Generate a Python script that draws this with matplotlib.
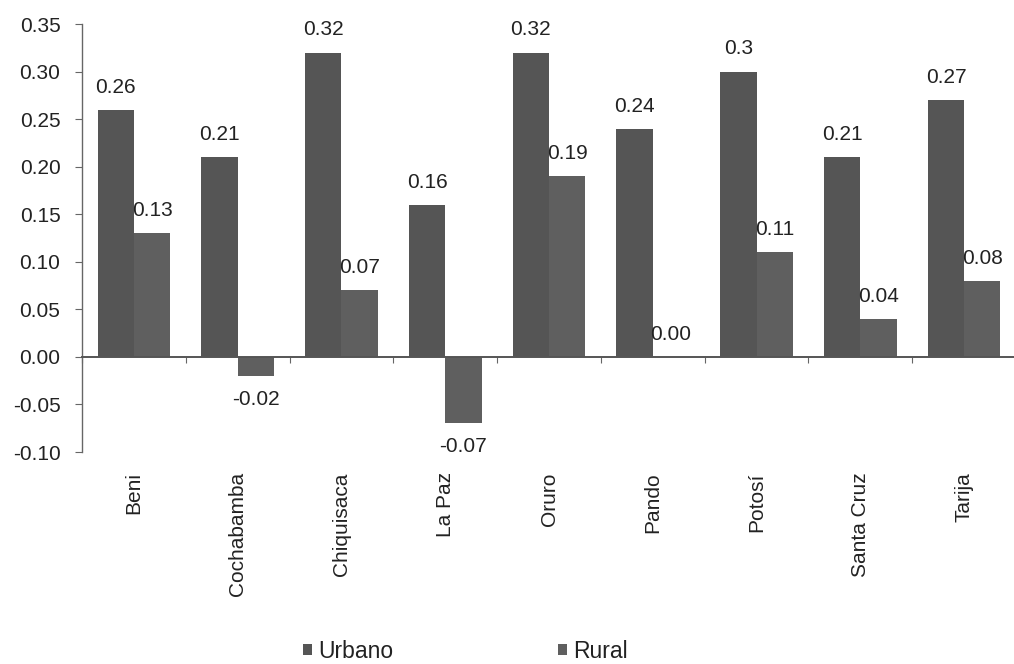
import numpy as np
import matplotlib
matplotlib.use("Agg")
import matplotlib.pyplot as plt
from matplotlib.ticker import FixedLocator, FormatStrFormatter

# departments and poverty-change values (labels kept as printed)
departments = ["Beni", "Cochabamba", "Chiquisaca", "La Paz", "Oruro",
               "Pando", "Potosí", "Santa Cruz", "Tarija"]
urbano_txt = ["0.26", "0.21", "0.32", "0.16", "0.32", "0.24", "0.3", "0.21", "0.27"]
rural_txt = ["0.13", "-0.02", "0.07", "-0.07", "0.19", "0.00", "0.11", "0.04", "0.08"]
urbano = [float(s) for s in urbano_txt]
rural = [float(s) for s in rural_txt]
y_ticks = [-0.10, -0.05, 0.00, 0.05, 0.10, 0.15, 0.20, 0.25, 0.30, 0.35]

plt.rcParams["font.family"] = ["Liberation Sans", "DejaVu Sans"]
plt.rcParams["font.size"] = 15
text_color = "#222222"

W, H = 1014, 664
fig = plt.figure(figsize=(W / 100, H / 100), dpi=100)
ax = fig.add_axes([82 / W, (H - 452) / H, 934 / W, 428 / H])

x = np.arange(len(departments))
bar_w = 0.35
b1 = ax.bar(x - bar_w / 2, urbano, bar_w, color="#555555", label="Urbano")
b2 = ax.bar(x + bar_w / 2, rural, bar_w, color="#5f5f5f", label="Rural")

# value labels above positive bars, below negative ones
for bars, txts in ((b1, urbano_txt), (b2, rural_txt)):
    for rect, t in zip(bars, txts):
        v = float(t)
        cx = rect.get_x() + rect.get_width() / 2
        if v < 0:
            ax.annotate(t, (cx, v), xytext=(0, -10), textcoords="offset points",
                        ha="center", va="top", color=text_color)
        else:
            ax.annotate(t, (cx, v), xytext=(0, 12.3), textcoords="offset points",
                        ha="center", va="baseline", color=text_color)

ax.set_xlim(-0.5, len(departments) - 0.5)
ax.set_ylim(-0.10, 0.35)

for side in ("top", "right"):
    ax.spines[side].set_visible(False)
ax.spines["bottom"].set_position(("data", 0))
ax.spines["bottom"].set_color("#555555")
ax.spines["bottom"].set_linewidth(1.4)
ax.spines["left"].set_color("#666666")
ax.spines["left"].set_linewidth(1.0)

ax.set_yticks(y_ticks)
ax.yaxis.set_major_formatter(FormatStrFormatter("%.2f"))
ax.tick_params(axis="y", direction="out", length=5, width=0.8, color="#666666",
               pad=10.5, labelcolor=text_color)

# category names hang well below the zero line; small ticks between groups
ax.set_xticks(x)
ax.set_xticklabels(departments, rotation=90)
ax.xaxis.set_minor_locator(FixedLocator(np.arange(-0.5, len(departments), 1.0)))
ax.tick_params(axis="x", which="major", length=0, pad=83, labelcolor=text_color)
ax.tick_params(axis="x", which="minor", direction="out", length=4, width=0.8,
               color="#666666")

fig.legend(handles=[b1, b2], labels=["Urbano", "Rural"], loc="center left",
           bbox_to_anchor=(303 / W, 1 - 651 / H), ncol=2, frameon=False,
           fontsize=16.5, handlelength=0.4, handleheight=0.4, handletextpad=0.25,
           columnspacing=7.2, borderpad=0, borderaxespad=0, labelcolor=text_color)

fig.savefig("out.png", dpi=100)
